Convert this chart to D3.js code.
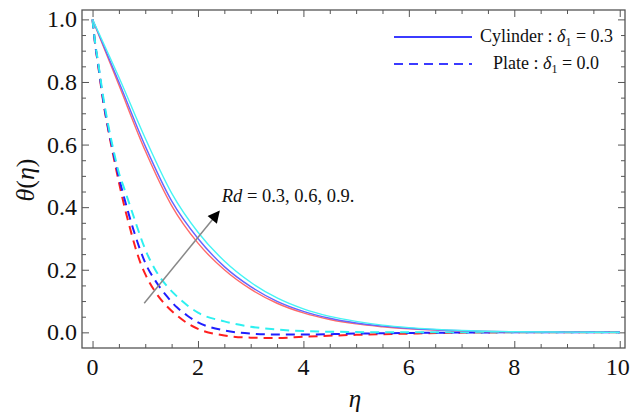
<!DOCTYPE html>
<html>
<head>
<meta charset="utf-8">
<script src="https://cdn.jsdelivr.net/npm/d3@7"></script>
<style>
  body { margin: 0; background: #fff; }
  svg text { font-family: "Liberation Serif", "Times New Roman", serif; fill: #111; }
</style>
</head>
<body>
<div id="chart"></div>
<script>
// cylinder (delta1 = 0.3), solid curves
var etaC = [0, 0.5, 1, 1.5, 2, 2.5, 3, 3.5, 4, 4.5, 5, 5.5, 6, 7, 8, 9, 10]
var cylRd03 = [1, 0.79, 0.58, 0.405, 0.285, 0.20, 0.138, 0.093, 0.062, 0.041, 0.027, 0.018, 0.011, 0.0042, 0.0015, 0.0005, 0]
var cylRd06 = [1, 0.80, 0.595, 0.42, 0.30, 0.21, 0.146, 0.099, 0.067, 0.045, 0.030, 0.020, 0.013, 0.005, 0.0017, 0.0006, 0]
var cylRd09 = [1, 0.815, 0.62, 0.445, 0.32, 0.228, 0.16, 0.11, 0.075, 0.051, 0.035, 0.023, 0.015, 0.006, 0.002, 0.0007, 0]

// plate (delta1 = 0.0), dashed curves
var etaP = [0, 0.05, 0.1, 0.2, 0.3, 0.4, 0.5, 0.6, 0.7, 0.8, 0.9, 1.0, 1.2, 1.4, 1.6, 1.8, 2.0, 2.5, 3, 3.5, 4, 5, 6, 7, 8, 10]
var plRd03 = [1, 0.92, 0.86, 0.74, 0.645, 0.56, 0.48, 0.405, 0.34, 0.278, 0.226, 0.186, 0.127, 0.085, 0.054, 0.029, 0.011, -0.01, -0.017, -0.018, -0.014, -0.008, -0.004, -0.001, 0, 0]
var plRd06 = [1, 0.92, 0.865, 0.745, 0.65, 0.57, 0.495, 0.43, 0.37, 0.315, 0.265, 0.222, 0.163, 0.117, 0.08, 0.053, 0.032, 0.006, -0.004, -0.007, -0.007, -0.004, -0.002, -0.0005, 0, 0]
var plRd09 = [1, 0.925, 0.87, 0.755, 0.66, 0.58, 0.51, 0.46, 0.41, 0.36, 0.31, 0.265, 0.197, 0.15, 0.115, 0.086, 0.063, 0.035, 0.018, 0.009, 0.004, 0.001, 0, 0, 0, 0]

var xMajor = [0, 2, 4, 6, 8, 10]
var yMajor = [0.0, 0.2, 0.4, 0.6, 0.8, 1.0]
var rdLabel = "Rd = 0.3, 0.6, 0.9."

var W = 630, H = 418
var margin = { top: 10, right: 5, bottom: 70, left: 82 }

var x = d3.scaleLinear().domain([-0.2, 10.1]).range([margin.left, W - margin.right])
var y = d3.scaleLinear().domain([-0.05, 1.03]).range([H - margin.bottom, margin.top])

var svg = d3.select('#chart').append('svg')
  .attr('width', W).attr('height', H)

var x0 = x.range()[0], x1 = x.range()[1], y0 = y.range()[0], y1 = y.range()[1]

svg.append('clipPath').attr('id', 'clip')
  .append('rect').attr('x', x0).attr('y', y1).attr('width', x1 - x0).attr('height', y0 - y1)

var xMinor = d3.range(0, 10.01, 0.5).filter(function (d) { return xMajor.indexOf(d) < 0 })
var yMinor = d3.range(0, 1.001, 0.05).map(function (d) { return +d.toFixed(2) })
  .filter(function (d) { return yMajor.indexOf(d) < 0 })

function axisStyle (g) {
  g.select('.domain').remove()
  g.selectAll('line').attr('stroke', '#555').attr('stroke-width', 1)
}

// ticks on all four sides, pointing inward, no labels (labels drawn below)
function ticks (axis, vals, size, tr) {
  svg.append('g').attr('transform', tr)
    .call(axis.tickValues(vals).tickSizeInner(-size).tickSizeOuter(0).tickFormat(''))
    .call(axisStyle)
}
ticks(d3.axisBottom(x), xMajor, 7, 'translate(0,' + y0 + ')')
ticks(d3.axisBottom(x), xMinor, 4, 'translate(0,' + y0 + ')')
ticks(d3.axisTop(x), xMajor, 7, 'translate(0,' + y1 + ')')
ticks(d3.axisTop(x), xMinor, 4, 'translate(0,' + y1 + ')')
ticks(d3.axisLeft(y), yMajor, 7, 'translate(' + x0 + ',0)')
ticks(d3.axisLeft(y), yMinor, 4, 'translate(' + x0 + ',0)')
ticks(d3.axisRight(y), yMajor, 7, 'translate(' + x1 + ',0)')
ticks(d3.axisRight(y), yMinor, 4, 'translate(' + x1 + ',0)')

// tick labels
svg.append('g').selectAll('text').data(xMajor).join('text')
  .attr('x', function (d) { return x(d) - (d === 10 ? 2 : 0) })
  .attr('y', y0 + 27)
  .attr('text-anchor', 'middle')
  .attr('font-family', 'Liberation Serif').attr('font-size', 24)
  .text(d3.format('d'))
svg.append('g').selectAll('text').data(yMajor).join('text')
  .attr('x', x0 - 5)
  .attr('y', function (d) { return y(d) + 8 })
  .attr('text-anchor', 'end')
  .attr('font-family', 'Liberation Serif').attr('font-size', 24)
  .text(d3.format('.1f'))

// frame
svg.append('rect')
  .attr('x', x0).attr('y', y1).attr('width', x1 - x0).attr('height', y0 - y1)
  .attr('fill', 'none').attr('stroke', '#555').attr('stroke-width', 1.3)

var line = d3.line()
  .x(function (d) { return x(d[0]) })
  .y(function (d) { return y(d[1]) })
  .curve(d3.curveMonotoneX)

function zip (xs, ys) { return xs.map(function (v, i) { return [v, ys[i]] }) }

var curves = [
  { xs: etaP, ys: plRd03, color: '#ff1f1f', dash: '9,6', w: 2 },
  { xs: etaP, ys: plRd06, color: '#1f1fff', dash: '9,6', w: 2 },
  { xs: etaP, ys: plRd09, color: '#2ef0f0', dash: '9,6', w: 2 },
  { xs: etaC, ys: cylRd03, color: '#ff6a6a', dash: null, w: 1.4 },
  { xs: etaC, ys: cylRd06, color: '#6565ff', dash: null, w: 1.4 },
  { xs: etaC, ys: cylRd09, color: '#45f4f4', dash: null, w: 1.4 }
]

var plot = svg.append('g').attr('clip-path', 'url(#clip)')
curves.forEach(function (c) {
  plot.append('path')
    .datum(zip(c.xs, c.ys))
    .attr('d', line)
    .attr('fill', 'none')
    .attr('stroke', c.color)
    .attr('stroke-width', c.w)
    .attr('stroke-dasharray', c.dash)
})

// arrow
svg.append('defs').append('marker')
  .attr('id', 'head').attr('viewBox', '0 0 10 10')
  .attr('refX', 9).attr('refY', 5)
  .attr('markerWidth', 16).attr('markerHeight', 12)
  .attr('markerUnits', 'userSpaceOnUse')
  .attr('orient', 'auto')
  .append('path').attr('d', 'M0,0 L10,5 L0,10 Z').attr('fill', '#000')

svg.append('line')
  .attr('x1', x(0.98)).attr('y1', y(0.093))
  .attr('x2', x(2.4)).attr('y2', y(0.386))
  .attr('stroke', '#888').attr('stroke-width', 1.5)
  .attr('marker-end', 'url(#head)')

var ann = svg.append('text')
  .attr('x', x(2.45)).attr('y', y(0.418))
  .attr('font-size', 18.5)
ann.append('tspan').attr('font-style', 'italic').text('Rd')
ann.append('tspan').text(rdLabel.slice(2))

// axis titles
var yl = svg.append('text')
  .attr('transform', 'translate(34,180) rotate(-90)')
  .attr('text-anchor', 'middle').attr('font-size', 26)
yl.append('tspan').attr('font-style', 'italic').text('θ')
yl.append('tspan').text('(')
yl.append('tspan').attr('font-style', 'italic').text('η')
yl.append('tspan').text(')')

svg.append('text')
  .attr('x', 355).attr('y', 407)
  .attr('text-anchor', 'middle').attr('font-size', 25).attr('font-style', 'italic')
  .text('η')

// legend
var legend = [
  { name: 'Cylinder', val: '0.3', dash: null, ly: 37, tx: 480 },
  { name: 'Plate', val: '0.0', dash: '9,6', ly: 64, tx: 493 }
]
legend.forEach(function (l) {
  svg.append('line')
    .attr('x1', 394).attr('x2', 472).attr('y1', l.ly).attr('y2', l.ly)
    .attr('stroke', '#3b3bff').attr('stroke-width', 2)
    .attr('stroke-dasharray', l.dash)
  var t = svg.append('text').attr('x', l.tx).attr('y', l.ly + 5).attr('font-size', 18)
  t.append('tspan').text(l.name + ' : ')
  t.append('tspan').attr('font-style', 'italic').text('δ')
  t.append('tspan').attr('font-size', 12).attr('dy', 4).text('1')
  t.append('tspan').attr('dy', -4).text(' = ' + l.val)
})
</script>
</body>
</html>
